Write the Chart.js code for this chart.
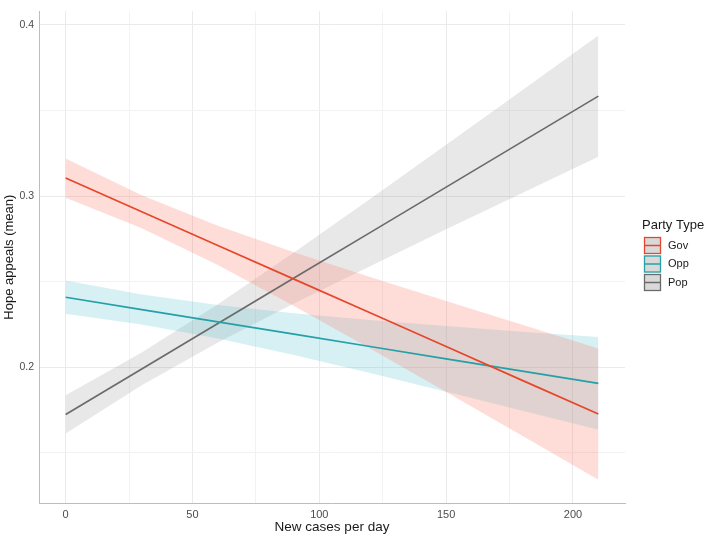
<!DOCTYPE html>
<html>
<head>
<meta charset="utf-8">
<script src="https://cdn.jsdelivr.net/npm/chart.js@4.4.1/dist/chart.umd.min.js"></script>
<style>
html,body{margin:0;padding:0;background:#ffffff;}
#wrap{width:709px;height:538px;}
</style>
</head>
<body>
<div id="wrap"><canvas id="c" width="709" height="538"></canvas></div>
<script>
// ---- data ----
const seriesNames = ['Gov', 'Opp', 'Pop'];
const xPoints = [0, 30, 60, 90, 120, 150, 180, 210];

const govFit   = [0.3105, 0.2908, 0.2711, 0.2514, 0.2317, 0.2120, 0.1922, 0.1725];
const govUpper = [0.3220, 0.3005, 0.2826, 0.2671, 0.2527, 0.2386, 0.2247, 0.2109];
const govLower = [0.2990, 0.2811, 0.2596, 0.2357, 0.2108, 0.1854, 0.1598, 0.1341];

const oppFit   = [0.2408, 0.2336, 0.2264, 0.2192, 0.2120, 0.2048, 0.1976, 0.1904];
const oppUpper = [0.2506, 0.2424, 0.2362, 0.2314, 0.2275, 0.2240, 0.2207, 0.2175];
const oppLower = [0.2311, 0.2248, 0.2167, 0.2070, 0.1965, 0.1856, 0.1745, 0.1633];

const popFit   = [0.1723, 0.1989, 0.2255, 0.2520, 0.2786, 0.3052, 0.3318, 0.3584];
const popUpper = [0.1835, 0.2085, 0.2367, 0.2669, 0.2982, 0.3299, 0.3619, 0.3939];
const popLower = [0.1611, 0.1893, 0.2143, 0.2371, 0.2590, 0.2805, 0.3017, 0.3229];

const xTickValues = [0, 25, 50, 75, 100, 125, 150, 175, 200];
const xTickLabels = ['0', '', '50', '', '100', '', '150', '', '200'];
const yTickValues = [0.15, 0.2, 0.25, 0.3, 0.35, 0.4];
const yTickLabels = ['', '0.2', '', '0.3', '', '0.4'];

// ---- styling ----
const lineColors = ['#E6472B', '#25A0A8', '#6B6B6B'];
const bandColors = ['rgba(250,128,114,0.27)', 'rgba(80,190,205,0.23)', 'rgba(150,150,150,0.22)'];

function pts(ys) { return xPoints.map((x, i) => ({x: x, y: ys[i]})); }

const groups = [
  {fit: govFit, lo: govLower, hi: govUpper},
  {fit: oppFit, lo: oppLower, hi: oppUpper},
  {fit: popFit, lo: popLower, hi: popUpper}
];

const datasets = [];
groups.forEach((g, i) => {
  const base = datasets.length;
  datasets.push({label: seriesNames[i] + ' lower', data: pts(g.lo), borderWidth: 0, borderColor: 'rgba(0,0,0,0)', pointRadius: 0, fill: false, order: 2});
  datasets.push({label: seriesNames[i] + ' upper', data: pts(g.hi), borderWidth: 0, borderColor: 'rgba(0,0,0,0)', pointRadius: 0, fill: {target: base}, backgroundColor: bandColors[i], order: 2});
});
groups.forEach((g, i) => {
  datasets.push({label: seriesNames[i], data: pts(g.fit), borderColor: lineColors[i], borderWidth: 1.7, pointRadius: 0, fill: false, order: 0});
});

Chart.defaults.font.family = "'Liberation Sans', Arial, Helvetica, sans-serif";

const legendPlugin = {
  id: 'partyLegend',
  afterDraw(chart) {
    const ctx = chart.ctx;
    ctx.save();
    ctx.fillStyle = '#1a1a1a';
    ctx.font = "13px 'Liberation Sans', Arial, sans-serif";
    ctx.textBaseline = 'middle';
    ctx.textAlign = 'left';
    ctx.fillText('Party Type', 642, 225);
    const kx = 644, ky0 = 237, kw = 17, kh = 17, step = 18.5;
    seriesNames.forEach((name, i) => {
      const y = ky0 + i * step;
      ctx.fillStyle = '#D9D9D9';
      ctx.fillRect(kx, y, kw, kh);
      ctx.strokeStyle = lineColors[i];
      ctx.lineWidth = 1.3;
      ctx.strokeRect(kx + 0.5, y + 0.5, kw - 1, kh - 1);
      ctx.beginPath();
      ctx.moveTo(kx, y + kh / 2);
      ctx.lineTo(kx + kw, y + kh / 2);
      ctx.lineWidth = 1.5;
      ctx.stroke();
      ctx.fillStyle = '#1a1a1a';
      ctx.font = "11px 'Liberation Sans', Arial, sans-serif";
      ctx.fillText(name, 668, y + kh / 2);
    });
    ctx.restore();
  }
};

function gridStyle(major) {
  return {
    color: (c) => (c.tick && major(c.tick.value)) ? '#EAEAEA' : '#F2F2F2',
    lineWidth: 1
  };
}

new Chart(document.getElementById('c'), {
  type: 'line',
  data: {datasets: datasets},
  plugins: [legendPlugin],
  options: {
    responsive: false,
    animation: false,
    events: [],
    layout: {padding: {top: 2, right: 84, left: 0, bottom: 0}},
    plugins: {legend: {display: false}, tooltip: {enabled: false}},
    elements: {line: {tension: 0}},
    scales: {
      x: {
        type: 'linear',
        min: -10.5, max: 220.5,
        afterFit: (s) => { s.height = 35; },
        afterBuildTicks: (s) => { s.ticks = xTickValues.map(v => ({value: v})); },
        border: {display: true, color: '#BDBDBD', width: 1},
        grid: Object.assign({drawTicks: false}, gridStyle(v => v % 50 === 0)),
        ticks: {
          padding: 5, color: '#4D4D4D', font: {size: 11},
          autoSkip: false, maxRotation: 0,
          callback: (v, i) => xTickLabels[i]
        },
        title: {display: true, text: 'New cases per day', color: '#1a1a1a', font: {size: 13.5}, padding: {top: 2, bottom: 3}}
      },
      y: {
        type: 'linear',
        min: 0.1205, max: 0.408,
        afterFit: (s) => { s.width = 39; },
        afterBuildTicks: (s) => { s.ticks = yTickValues.map(v => ({value: v})); },
        border: {display: true, color: '#BDBDBD', width: 1},
        grid: Object.assign({drawTicks: false}, gridStyle(v => Math.abs(v * 10 - Math.round(v * 10)) < 1e-6)),
        ticks: {
          padding: 5, color: '#4D4D4D', font: {size: 10.5},
          autoSkip: false,
          callback: (v, i) => yTickLabels[i]
        },
        title: {display: true, text: 'Hope appeals (mean)', color: '#1a1a1a', font: {size: 13}, padding: {top: 2, bottom: 0}}
      }
    }
  }
});
</script>
</body>
</html>
